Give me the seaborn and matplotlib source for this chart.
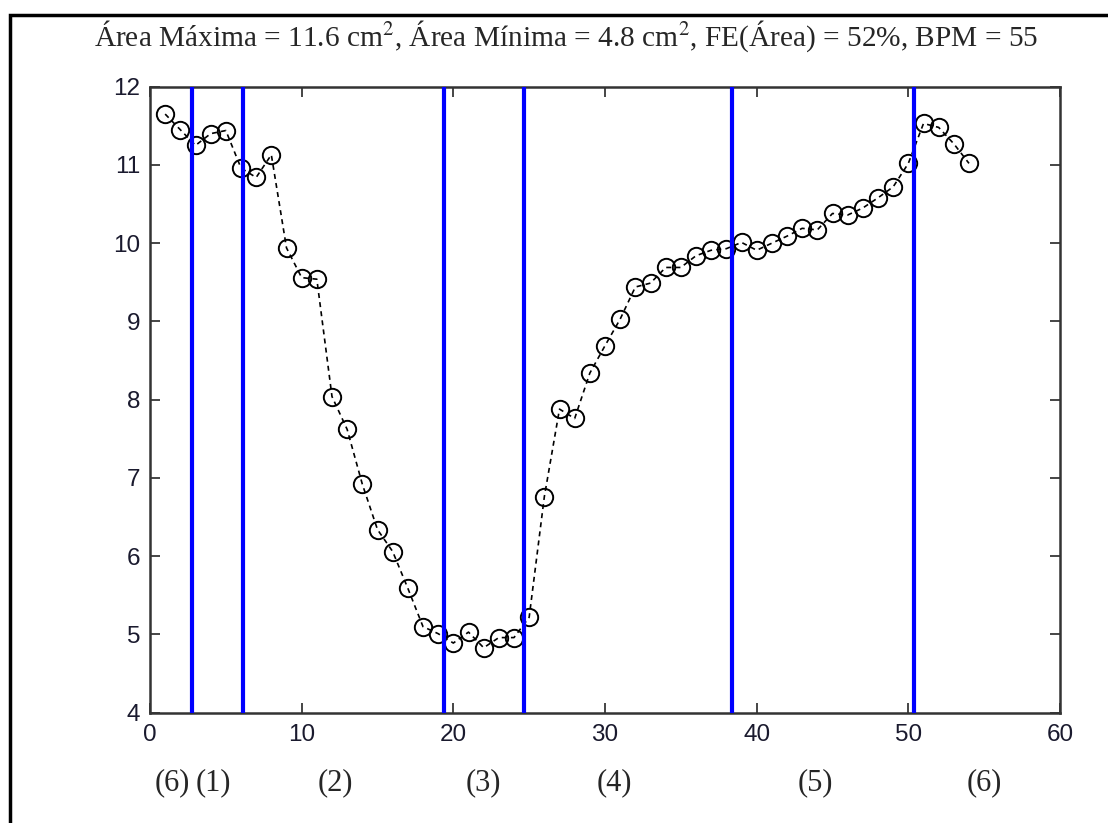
import matplotlib as mpl
mpl.use('Agg')
import matplotlib.pyplot as plt
import numpy as np
import pandas as pd
import seaborn as sns

# frame index and area (cm^2) per frame
frames = list(range(1, 55))
area = [11.65, 11.45, 11.25, 11.40, 11.44, 10.96, 10.84, 11.13, 9.94, 9.56,
        9.54, 8.04, 7.62, 6.92, 6.34, 6.06, 5.59, 5.10, 5.01, 4.89,
        5.03, 4.83, 4.96, 4.96, 5.22, 6.76, 7.88, 7.76, 8.34, 8.69,
        9.03, 9.44, 9.49, 9.69, 9.69, 9.84, 9.91, 9.93, 10.01, 9.91,
        10.00, 10.09, 10.19, 10.17, 10.38, 10.36, 10.45, 10.58, 10.72, 11.02,
        11.53, 11.48, 11.27, 11.02]

# phase boundaries (frame units) and phase labels
boundaries = [2.8, 6.15, 19.4, 24.65, 38.4, 50.4]
phase_labels = ['(6)', '(1)', '(2)', '(3)', '(4)', '(5)', '(6)']
phase_label_x = [1.45, 4.15, 12.2, 21.95, 30.6, 43.9, 55.0]

title = ('Área Máxima = 11.6 cm$^2$, Área Mínima = 4.8 cm$^2$, '
         'FE(Área) = 52%, BPM = 55')


def main():
    sns.set_style('ticks')
    plt.rcParams['mathtext.fontset'] = 'stix'
    plt.rcParams['font.family'] = ['Liberation Sans', 'DejaVu Sans']

    fig = plt.figure(figsize=(11.08, 8.23), dpi=100)
    ax = fig.add_axes([150 / 1108, 1 - 712.7 / 823, 910 / 1108, 626 / 823])

    df = pd.DataFrame({'frame': frames, 'area': area})
    sns.lineplot(data=df, x='frame', y='area', ax=ax, color='black',
                 linewidth=1.2, dashes=False, marker='o', markersize=12.5,
                 markerfacecolor='none', markeredgecolor='black',
                 markeredgewidth=1.4, zorder=3)
    ax.lines[0].set_dashes((3, 2.5))

    for b in boundaries:
        ax.axvline(b, color='#0000ff', linewidth=3, zorder=4)

    ax.set_xlim(0, 60)
    ax.set_ylim(4, 12)
    ax.set_xticks(np.arange(0, 61, 10))
    ax.set_yticks(np.arange(4, 13, 1))
    ax.set_xlabel('')
    ax.set_ylabel('')
    ax.tick_params(direction='in', length=7, width=1.2, top=True, right=True,
                   labelsize=17.5, labelcolor='#1a1a2e')
    ax.tick_params(axis='x', pad=8)
    ax.tick_params(axis='y', pad=7)
    for s in ax.spines.values():
        s.set_linewidth(1.8)
        s.set_color('#333333')
        s.set_visible(True)

    for lab, xp in zip(phase_labels, phase_label_x):
        ax.text(xp, -0.112, lab, transform=ax.get_xaxis_transform(),
                ha='center', va='center', fontsize=22,
                family=['Liberation Serif', 'DejaVu Serif'])

    fig.text(566 / 1108, 1 - 36 / 823, title, ha='center', va='center',
             fontsize=21.2, family=['Liberation Serif', 'DejaVu Serif'])

    # outer frame, clipped on right and bottom
    frame_rect = mpl.patches.Rectangle((10 / 1108, -0.05), 1.2, 1 - 15 / 823 + 0.05,
                                       transform=fig.transFigure, fill=False,
                                       edgecolor='black', linewidth=2.5)
    fig.add_artist(frame_rect)

    fig.savefig('out.png', dpi=100)
    plt.close(fig)


if __name__ == '__main__':
    main()
